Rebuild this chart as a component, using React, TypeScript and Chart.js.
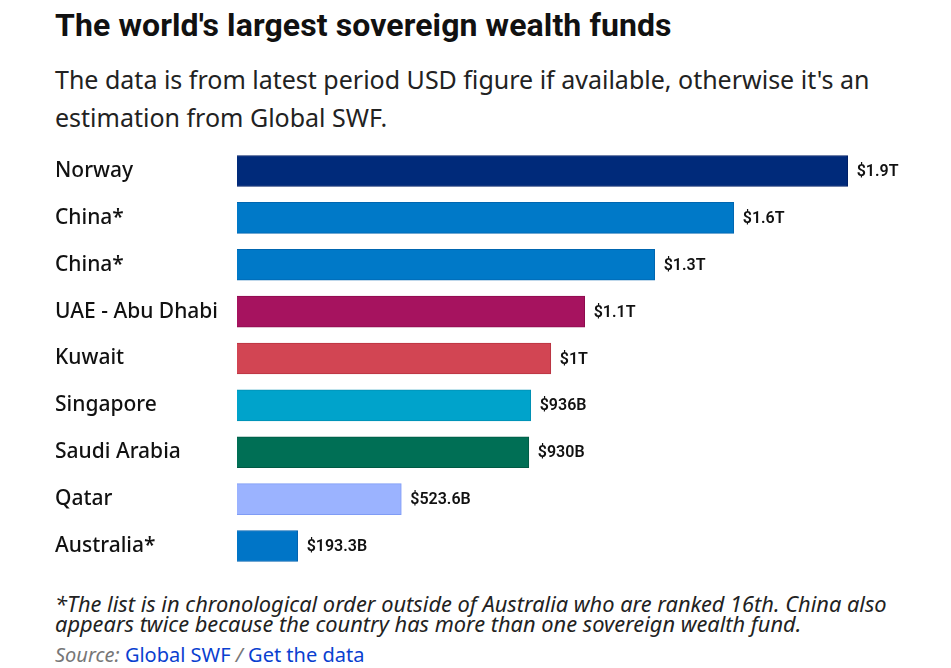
import React, { useEffect, useRef } from "react";
import { Chart, registerables } from "chart.js";

Chart.register(...registerables);

// Fund sizes in billions of USD
const countries = [
  "Norway",
  "China*",
  "China*",
  "UAE - Abu Dhabi",
  "Kuwait",
  "Singapore",
  "Saudi Arabia",
  "Qatar",
  "Australia*",
];
const assetsBillions = [1946, 1583, 1331, 1108, 1000, 936, 930, 523.6, 193.3];
const barColors = [
  "#002a7a",
  "#0079c8",
  "#0079c8",
  "#a6135f",
  "#d24553",
  "#00a3cb",
  "#006f55",
  "#9bb3ff",
  "#0075c7",
];
const borderColors = [
  "#001f66",
  "#0066b0",
  "#0066b0",
  "#8c0c4e",
  "#b83441",
  "#008fb3",
  "#005a44",
  "#7f9cf5",
  "#0062b0",
];

function formatValue(v: number): string {
  if (v >= 1000) {
    const t = (v / 1000).toFixed(1).replace(/\.0$/, "");
    return `$${t}T`;
  }
  return `$${v}B`;
}

const valueLabels = {
  id: "valueLabels",
  afterDatasetsDraw(chart: any) {
    const ctx = chart.ctx;
    const meta = chart.getDatasetMeta(0);
    ctx.save();
    ctx.font = "600 16px Roboto";
    ctx.fillStyle = "#111";
    ctx.textAlign = "left";
    ctx.textBaseline = "middle";
    meta.data.forEach((bar: any, i: number) => {
      ctx.fillText(formatValue(assetsBillions[i]), bar.x + 9, bar.y + 1);
    });
    ctx.restore();
  },
};

function FundsChart() {
  const ref = useRef<HTMLCanvasElement | null>(null);
  useEffect(() => {
    if (!ref.current) return;
    const chart = new Chart(ref.current, {
      type: "bar",
      data: {
        labels: countries,
        datasets: [
          {
            data: assetsBillions,
            backgroundColor: barColors,
            borderColor: borderColors,
            borderWidth: 1,
            barThickness: 31,
          },
        ],
      },
      options: {
        indexAxis: "y",
        animation: false,
        responsive: false,
        events: [],
        layout: { padding: { left: 47, right: 47, top: 0, bottom: 0 } },
        plugins: { legend: { display: false }, tooltip: { enabled: false } },
        scales: {
          x: { display: false, min: 0, max: 2100 },
          y: {
            grid: { display: false },
            border: { display: false },
            afterFit(scale: any) {
              scale.width = 182;
            },
            ticks: {
              crossAlign: "far",
              color: "#111",
              font: { family: "'Noto Sans'", size: 21, weight: "500" },
            },
          },
        },
      },
      plugins: [valueLabels],
    });
    return () => chart.destroy();
  }, []);
  return <canvas ref={ref} width={935} height={453} style={{ display: "block" }} />;
}

export default function App() {
  return (
    <div
      style={{
        position: "relative",
        width: 935,
        height: 660,
        fontFamily: "'Noto Sans', sans-serif",
        color: "#111",
      }}
    >
      <div
        style={{
          position: "absolute",
          left: 47,
          top: -1,
          fontFamily: "Roboto",
          fontWeight: 700,
          fontSize: 32,
          letterSpacing: 0.1,
          lineHeight: "36px",
          whiteSpace: "nowrap",
        }}
      >
        The world's largest sovereign wealth funds
      </div>
      <div
        style={{
          position: "absolute",
          left: 47,
          top: 52,
          width: 860,
          fontFamily: "'Noto Sans'",
          fontSize: 25,
          lineHeight: "38px",
          color: "#222",
        }}
      >
        The data is from latest period USD figure if available, otherwise it's an estimation from Global SWF.
      </div>
      <div style={{ position: "absolute", left: 0, top: 123.5 }}>
        <FundsChart />
      </div>
      <div
        style={{
          position: "absolute",
          left: 47,
          top: 586,
          width: 850,
          fontFamily: "'Noto Sans'",
          fontStyle: "italic",
          fontSize: 21.8,
          lineHeight: "20px",
          color: "#222",
        }}
      >
        *The list is in chronological order outside of Australia who are ranked 16th. China also appears twice
        because the country has more than one sovereign wealth fund.
      </div>
      <div
        style={{
          position: "absolute",
          left: 47,
          top: 637,
          fontFamily: "'Noto Sans'",
          fontSize: 20,
          lineHeight: "20px",
          whiteSpace: "nowrap",
        }}
      >
        <span style={{ color: "#777", fontStyle: "italic" }}>Source: </span>
        <span style={{ color: "#0a3fd0" }}>Global SWF</span>
        <span style={{ color: "#777", fontStyle: "italic" }}> / </span>
        <span style={{ color: "#0a3fd0" }}>Get the data</span>
      </div>
    </div>
  );
}
